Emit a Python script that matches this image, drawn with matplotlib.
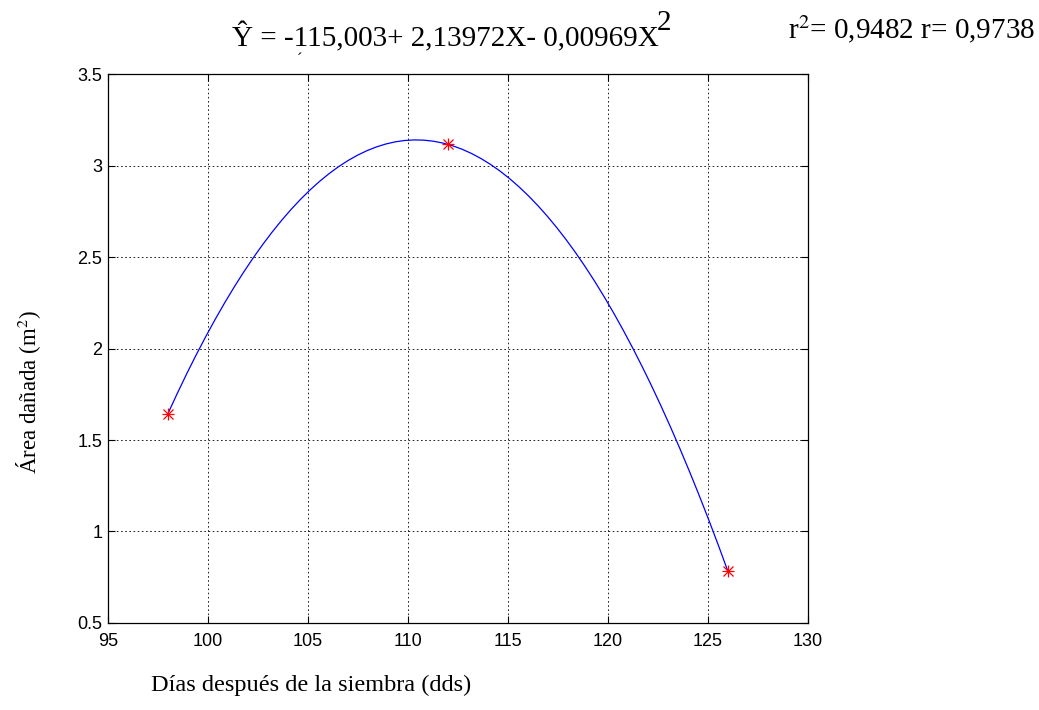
import numpy as np
import matplotlib
matplotlib.use("Agg")
import matplotlib.pyplot as plt

# Data
dias = [98, 112, 126]
area = [1.642, 3.117, 0.785]
x_ticks = [95, 100, 105, 110, 115, 120, 125, 130]
y_ticks = [0.5, 1, 1.5, 2, 2.5, 3, 3.5]
y_tick_labels = ["0.5", "1", "1.5", "2", "2.5", "3", "3.5"]

fig = plt.figure(figsize=(10.39, 7.10), dpi=100)
ax = fig.add_axes([0.1037, 0.1227, 0.6737, 0.7727])

# quadratic fit curve through observed points
coef = np.polyfit(dias, area, 2)
xs = np.linspace(min(dias), max(dias), 60)
ax.plot(xs, np.polyval(coef, xs), color="#0000ff", lw=0.9)

ax.plot(dias, area, ls="none", marker="+", color="red", ms=9, mew=0.9)
ax.plot(dias, area, ls="none", marker="x", color="red", ms=6.5, mew=0.9)

ax.set_xlim(95, 130)
ax.set_ylim(0.5, 3.5)
ax.set_xticks(x_ticks)
ax.set_yticks(y_ticks)
ax.set_yticklabels(y_tick_labels)
ax.grid(True, color="black", ls=(0, (2, 3)), lw=0.6)
ax.tick_params(direction="in", length=5, width=0.8, labelsize=13,
               top=True, right=True)
ax.tick_params(axis="x", pad=7)
ax.tick_params(axis="y", pad=4)
for lab in ax.get_xticklabels() + ax.get_yticklabels():
    lab.set_family("Liberation Sans")
for s in ax.spines.values():
    s.set_linewidth(0.9)

serif = "Liberation Serif"
fig.text(232 / 1039, 1 - 46.7 / 710, "Ŷ = -115,003+ 2,13972X- 0,00969X",
         family=serif, fontsize=21, ha="left", va="baseline")
fig.text(657 / 1039, 1 - 30 / 710, "2", family=serif, fontsize=21,
         ha="left", va="baseline")
fig.text(300 / 1039, 1 - 60 / 710, "ˊ", family=serif, fontsize=12,
         ha="center", va="center")
fig.text(788 / 1039, 1 - 38 / 710, r"r$^{2}$= 0,9482 r= 0,9738",
         family=serif, fontsize=21, ha="left", va="baseline",
         math_fontfamily="stix")

fig.text(0.027, 1 - 392 / 710, "Área dañada (m$^{2}$)", family=serif,
         fontsize=16.5, rotation=90, ha="center", va="center",
         math_fontfamily="stix")
fig.text(0.299, 0.035, "Días después de la siembra (dds)", family=serif,
         fontsize=17.5, ha="center", va="center")

fig.savefig("out.png", dpi=100)
